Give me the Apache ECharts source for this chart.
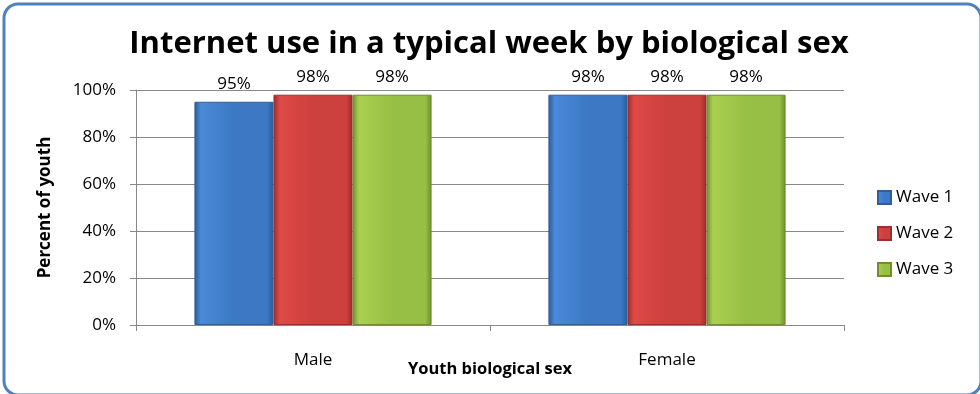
<!DOCTYPE html>
<html><head><meta charset="utf-8">
<script src="https://cdn.jsdelivr.net/npm/echarts@6/dist/echarts.min.js"></script>
<style>html,body{margin:0;padding:0;background:#fff}#c{width:980px;height:394px}</style>
</head><body><div id="c"></div>
<script>
const categories = ['Male', 'Female'];
const wave1 = [95, 98];
const wave2 = [98, 98];
const wave3 = [98, 98];
const seriesNames = ['Wave 1', 'Wave 2', 'Wave 3'];
const yTicks = [0, 20, 40, 60, 80, 100];

function grad(light, mid, dark) {
  return new echarts.graphic.LinearGradient(0, 0, 1, 0, [
    {offset: 0, color: dark}, {offset: 0.08, color: light}, {offset: 0.5, color: mid},
    {offset: 0.92, color: mid}, {offset: 1, color: dark}
  ]);
}
const styles = [
  {c: grad('#4a8ad8', '#3c78c4', '#2c5a94'), b: '#2f5f9a'},
  {c: grad('#de4a47', '#cc403d', '#9a2c2a'), b: '#9f2f2d'},
  {c: grad('#a9d050', '#98bf45', '#6f8f2e'), b: '#6f8c2f'}
];
const dataSets = [wave1, wave2, wave3];

const chart = echarts.init(document.getElementById('c'));
chart.setOption({
  animation: false,
  textStyle: {fontFamily: 'Open Sans, sans-serif'},
  title: {
    text: 'Internet use in a typical week by biological sex',
    left: 484, textAlign: 'center', top: 24,
    textStyle: {fontFamily: 'Open Sans', fontWeight: 'bold', fontSize: 31, color: '#000'}
  },
  legend: {
    orient: 'vertical', left: 872, top: 184, itemGap: 19,
    itemWidth: 13, itemHeight: 13, icon: 'rect',
    textStyle: {fontSize: 17, color: '#000', fontFamily: 'Open Sans'},
    data: seriesNames
  },
  grid: {left: 136, right: 136, top: 90, bottom: 69, containLabel: false},
  xAxis: {
    type: 'category', data: categories,
    name: 'Youth biological sex', nameLocation: 'middle', nameGap: 44, nameMoveOverlap: false,
    nameTextStyle: {fontWeight: 'bold', fontSize: 16.5, color: '#000', verticalAlign: 'middle'},
    axisLine: {lineStyle: {color: '#888'}},
    axisTick: {show: true, length: 6, lineStyle: {color: '#888'}},
    axisLabel: {fontSize: 17, color: '#000', margin: 27}
  },
  yAxis: {
    type: 'value', min: 0, max: 100, interval: 20,
    name: 'Percent of youth', nameLocation: 'middle', nameGap: 82, nameMoveOverlap: false,
    nameTextStyle: {fontWeight: 'bold', fontSize: 17, color: '#000'},
    axisLine: {show: true, lineStyle: {color: '#888'}},
    axisTick: {show: true, length: 6, lineStyle: {color: '#888'}},
    axisLabel: {fontSize: 17, color: '#000', margin: 20, formatter: v => yTicks.includes(v) ? v + '%' : ''},
    splitLine: {lineStyle: {color: '#888'}}
  },
  series: seriesNames.map((n, i) => ({
    name: n, type: 'bar', data: dataSets[i],
    barGap: '0%', barCategoryGap: '33%',
    itemStyle: {color: styles[i].c, borderColor: styles[i].b, borderWidth: 1},
    label: {show: true, position: 'top', distance: 9, fontSize: 17, color: '#000', formatter: p => p.value + '%'}
  })),
  graphic: [{
    type: 'rect', left: 1.5, top: 1.5, z: 100, silent: true,
    shape: {width: 977, height: 391, r: 14},
    style: {fill: 'none', stroke: '#4f81bd', lineWidth: 3}
  }]
});
</script></body></html>
